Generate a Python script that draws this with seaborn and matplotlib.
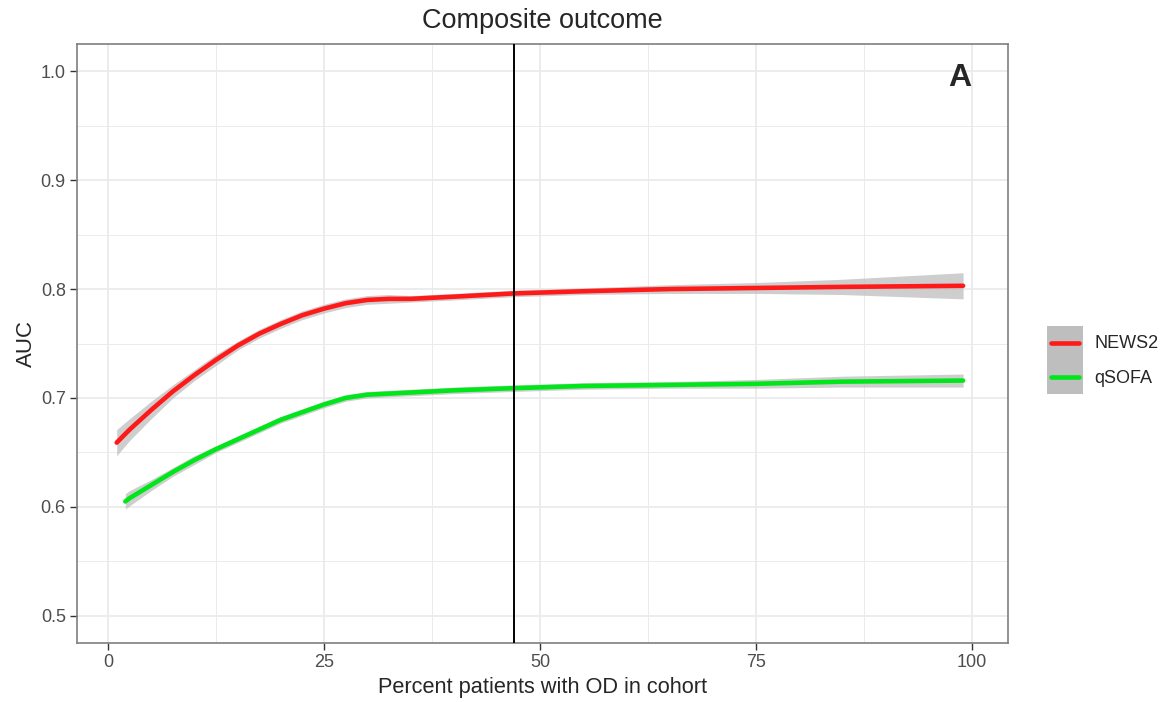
import numpy as np
import pandas as pd
import matplotlib
matplotlib.use("Agg")
import matplotlib.pyplot as plt
import seaborn as sns
from matplotlib.patches import Rectangle
from matplotlib.lines import Line2D
from matplotlib.legend_handler import HandlerBase
from matplotlib.ticker import MultipleLocator, FormatStrFormatter

# values
news2_x = [1, 2.5, 5, 7.5, 10, 12.5, 15, 17.5, 20, 22.5, 25, 27.5, 30, 32.5,
           35, 40, 47, 55, 65, 75, 85, 99]
news2_auc = [0.659, 0.671, 0.689, 0.706, 0.721, 0.735, 0.748, 0.759, 0.768,
             0.776, 0.782, 0.787, 0.790, 0.791, 0.791, 0.793, 0.796, 0.798,
             0.800, 0.801, 0.802, 0.803]
news2_ci = [0.012, 0.010, 0.008, 0.006, 0.005, 0.005, 0.004, 0.004, 0.004,
            0.004, 0.004, 0.004, 0.004, 0.004, 0.003, 0.003, 0.003, 0.003,
            0.004, 0.005, 0.007, 0.012]

qsofa_x = [2, 2.5, 5, 7.5, 10, 12.5, 15, 17.5, 20, 22.5, 25, 27.5, 30, 32.5,
           35, 40, 47, 55, 65, 75, 85, 99]
qsofa_auc = [0.605, 0.608, 0.620, 0.632, 0.643, 0.653, 0.662, 0.671, 0.680,
             0.687, 0.694, 0.700, 0.703, 0.704, 0.705, 0.707, 0.709, 0.711,
             0.712, 0.713, 0.715, 0.716]
qsofa_ci = [0.007, 0.007, 0.005, 0.004, 0.004, 0.003, 0.003, 0.003, 0.003,
            0.003, 0.003, 0.003, 0.003, 0.003, 0.003, 0.003, 0.003, 0.003,
            0.003, 0.004, 0.005, 0.006]

cutoff = 47
colors = {"NEWS2": "#FF1A1A", "qSOFA": "#00E61A"}
band_col = "#BEBEBE"

df = pd.concat([
    pd.DataFrame({"pct": news2_x, "auc": news2_auc, "ci": news2_ci, "score": "NEWS2"}),
    pd.DataFrame({"pct": qsofa_x, "auc": qsofa_auc, "ci": qsofa_ci, "score": "qSOFA"}),
])


class KeyHandler(HandlerBase):
    # grey ggplot-style key box with the line on top
    def create_artists(self, legend, orig_handle, xdescent, ydescent,
                       width, height, fontsize, trans):
        rect = Rectangle((-xdescent, -ydescent), width, height,
                         facecolor=band_col, edgecolor="none", transform=trans)
        ym = -ydescent + height / 2
        line = Line2D([-xdescent + 3, -xdescent + width - 3], [ym, ym],
                      color=orig_handle.get_color(), lw=3.3, transform=trans)
        return [rect, line]


sns.set_style("white")
plt.rcParams["font.family"] = ["Liberation Sans", "DejaVu Sans"]

fig = plt.figure(figsize=(11.66, 7.02), dpi=100)
ax = fig.add_axes([0.066, 0.084, 0.7985, 0.8533])

grid_col = "#EBEBEB"
ax.set_xlim(-3.6, 104.2)
ax.set_ylim(0.475, 1.025)
ax.xaxis.set_major_locator(MultipleLocator(25))
ax.xaxis.set_minor_locator(MultipleLocator(12.5))
ax.yaxis.set_major_locator(MultipleLocator(0.1))
ax.yaxis.set_minor_locator(MultipleLocator(0.05))
ax.grid(which="major", color=grid_col, lw=1.3, zorder=0)
ax.grid(which="minor", color=grid_col, lw=0.7, zorder=0)
ax.set_axisbelow(True)

# confidence bands
for name, g in df.groupby("score"):
    ax.fill_between(g["pct"], g["auc"] - g["ci"], g["auc"] + g["ci"],
                    color=band_col, alpha=0.75, lw=0, zorder=2)

sns.lineplot(data=df, x="pct", y="auc", hue="score", palette=colors,
             lw=3.3, ax=ax, legend=False, zorder=3)

ax.axvline(cutoff, color="black", lw=1.4, zorder=4)

ax.text(0.961, 0.969, "A", transform=ax.transAxes, ha="right", va="top",
        fontsize=23, fontweight="bold")

ax.set_title("Composite outcome", fontsize=19.5, pad=11.5)
ax.set_xlabel("Percent patients with OD in cohort", fontsize=15.7, labelpad=4)
ax.set_ylabel("AUC", fontsize=16, labelpad=3)
ax.yaxis.set_major_formatter(FormatStrFormatter("%.1f"))
ax.tick_params(which="major", length=5, width=1, color="#333333", pad=3,
               labelsize=13, labelcolor="#4D4D4D", direction="out",
               bottom=True, left=True)
ax.tick_params(which="minor", length=0)
for s in ax.spines.values():
    s.set_color("#7F7F7F")
    s.set_linewidth(1.2)

handles = [Line2D([0], [0], color=colors[k]) for k in ["NEWS2", "qSOFA"]]
fig.legend(handles, ["NEWS2", "qSOFA"],
           handler_map={Line2D: KeyHandler()},
           loc="center left", bbox_to_anchor=(0.898, 0.487),
           frameon=False, fontsize=13, handlelength=2.0, handleheight=2.55,
           handletextpad=0.6, labelspacing=0.0, borderaxespad=0,
           borderpad=0)

fig.savefig("out.png", dpi=100)
